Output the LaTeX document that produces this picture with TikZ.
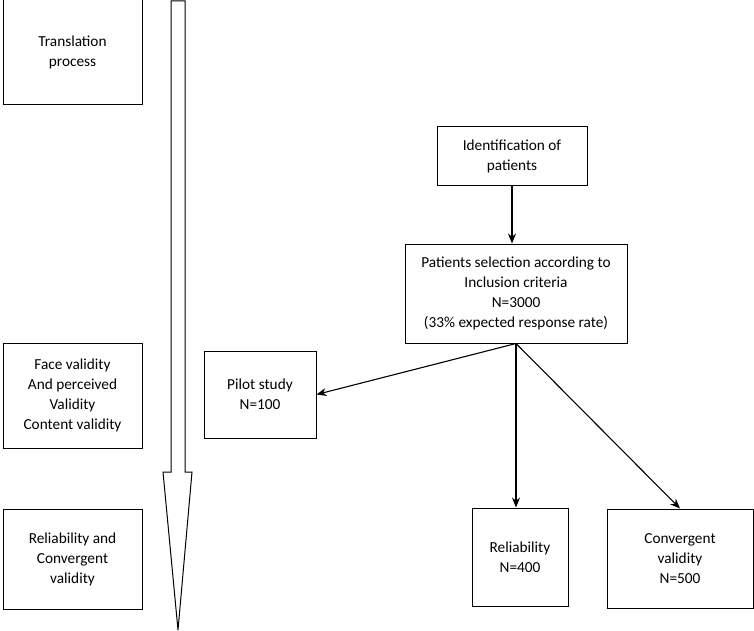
\documentclass[tikz,border=0pt]{standalone}
\usepackage{fontspec}
\setmainfont{Carlito}
\usetikzlibrary{arrows.meta}
\begin{document}
\begin{tikzpicture}
[x=1pt,y=-1pt,
  boxDecorate/.style={draw,line width=1pt,align=center,inner sep=0pt,
    font=\fontsize{15.3}{20}\selectfont},%
  arrowDecorate/.style={->,>={Stealth[length=10pt,width=8pt]},line width=1.1pt}]
\useasboundingbox (0,0) rectangle (754,631);
%% stages on the left
\node (trans) at (72.5,52.5) [boxDecorate,minimum width=139,minimum height=105] {Translation\\process};
\node (face) at (72.5,395.5) [boxDecorate,minimum width=139,minimum height=105] {Face validity\\And perceived\\Validity\\Content validity};
\node (relconv) at (72.5,559) [boxDecorate,minimum width=139,minimum height=100] {Reliability and\\Convergent\\validity};
%% big downward arrow
\draw[line width=1pt,fill=white] (171,1) -- (185,1) -- (185,472) -- (192,472)
  -- (178,630) -- (163,472) -- (171,472) -- cycle;
%% patient flow
\node (ident) at (512,156) [boxDecorate,minimum width=150,minimum height=58] {Identification of\\patients};
\node (sel) at (516,293.5) [boxDecorate,minimum width=222,minimum height=99] {Patients selection according to\\Inclusion criteria\\N=3000\\(33\% expected response rate)};
\node (pilot) at (260,394.5) [boxDecorate,minimum width=112,minimum height=87] {Pilot study\\N=100};
\node (rel) at (520,557) [boxDecorate,minimum width=96,minimum height=98] {Reliability\\N=400};
\node (conv) at (680,558.5) [boxDecorate,minimum width=146,minimum height=99] {Convergent\\validity\\N=500};
%% edges
\path
(ident.south) edge[arrowDecorate] (ident.south |- sel.north)
(sel.south) edge[arrowDecorate] (pilot.east)
(sel.south) edge[arrowDecorate] (sel.south |- rel.north)
(sel.south) edge[arrowDecorate] (conv.north);
\end{tikzpicture}
\end{document}
